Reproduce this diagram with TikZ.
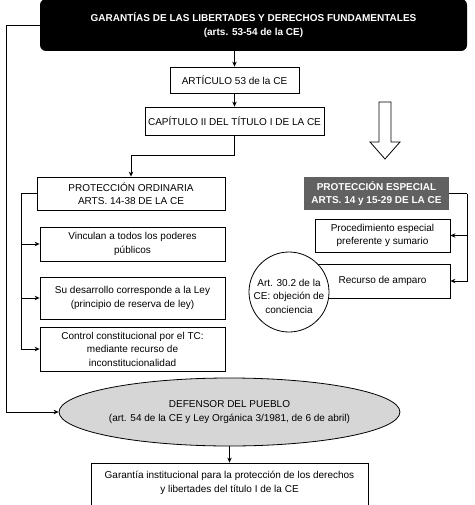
\documentclass[tikz,border=0pt]{standalone}
\usepackage{fontspec}
\setmainfont{Liberation Sans}
\usetikzlibrary{positioning,calc,arrows.meta,shapes.geometric}
\definecolor{espgray}{HTML}{616161}
\definecolor{defgray}{HTML}{D6D6D6}

\begin{document}
\begin{tikzpicture}[
    x=1pt, y=-1pt,
    >={Stealth[length=5pt,width=4.5pt]},
    line width=0.8pt,
    every node/.style={font=\fontsize{10}{13.5}\selectfont, align=center, inner sep=1pt},
    box/.style={draw, rectangle, fill=white},
    darkbox/.style={rectangle, text=white, font=\fontsize{10}{13.5}\selectfont\bfseries}
]

\useasboundingbox (0,0) rectangle (474,505);

%======================
% Coordinates
%======================

\coordinate (Tc)  at (253.5,25);
\coordinate (Ac)  at (234.5,80);
\coordinate (Cc)  at (234.5,121);
\coordinate (Oc)  at (131,193.5);
\coordinate (Ec)  at (376.5,193.5);
\coordinate (Dc)  at (229.5,412);
\coordinate (Gc)  at (229.5,486);

%======================
% Top boxes
%======================

\node[darkbox, fill=black, rounded corners=6pt, minimum width=427pt, minimum height=52pt]
  (title) at (Tc) {GARANTÍAS DE LAS LIBERTADES Y DERECHOS FUNDAMENTALES\\(arts. 53-54 de la CE)};
\node[box, minimum width=129pt, minimum height=26pt] (art53) at (Ac) {ARTÍCULO 53 de la CE};
\node[box, minimum width=179pt, minimum height=28pt] (cap) at (Cc) {CAPÍTULO II DEL TÍTULO I DE LA CE};

%======================
% Ordinary protection
%======================

\node[box, minimum width=188pt, minimum height=33pt] (ord) at (Oc) {PROTECCIÓN ORDINARIA\\ARTS. 14-38 DE LA CE};
\node[box, minimum width=185pt, minimum height=34pt] (vinc) at (132.5,244) {Vinculan a todos los poderes\\públicos};
\node[box, minimum width=185pt, minimum height=42pt] (desa) at (132.5,298) {Su desarrollo corresponde a la Ley\\(principio de reserva de ley)};
\node[box, minimum width=185pt, minimum height=44pt] (ctrl) at (132.5,349) {Control constitucional por el TC:\\mediante recurso de\\inconstitucionalidad};

%======================
% Special protection
%======================

\node[darkbox, fill=espgray, minimum width=145pt, minimum height=33pt] (esp) at (Ec) {PROTECCIÓN ESPECIAL\\ARTS. 14 y 15-29 DE LA CE};
\node[box, minimum width=135pt, minimum height=33pt] (proc) at (382.5,235.5) {Procedimiento especial\\preferente y sumario};
\node[box, minimum width=135pt, minimum height=34pt] (rec) at (382.5,281) {Recurso de amparo};
\node[draw, circle, fill=white, minimum size=80pt, inner sep=0pt,
      label={[yshift=-4pt]center:{Art. 30.2 de la\\CE: objeción de\\conciencia}}] (obj) at (289,292) {};

% Hollow arrow
\draw[fill=white] (379,102) -- (391,102) -- (391,142) -- (400,142) -- (385,159)
  -- (370,142) -- (379,142) -- cycle;

%======================
% Bottom
%======================

\node[draw, ellipse, fill=defgray, minimum width=313pt, minimum height=68pt, inner sep=0pt]
  (def) at (Dc) {DEFENSOR DEL PUEBLO\\(art. 54 de la CE y Ley Orgánica 3/1981, de 6 de abril)};
\node[box, minimum width=277pt, minimum height=46pt, text depth=8pt] (gar) at (Gc)
  {Garantía institucional para la protección de los derechos\\y libertades del título I de la CE};

%======================
% Arrows
%======================

\coordinate (capbend) at (131,155);
\coordinate (leftbus) at (6,25);
\coordinate (ordbus)  at (21,193.5);
\coordinate (espbus)  at (467,193.5);

\draw[->] (title.south -| art53.north) -- (art53.north);
\draw[->] (art53.south) -- (cap.north);
\draw[->] (cap.south) |- (capbend) -- (ord.north);
\draw[->] (title.west) -- (leftbus) |- (def.west);

\draw (ord.west) -- (ordbus);
\draw[->] (ordbus) |- (vinc.west);
\draw[->] (ordbus) |- (desa.west);
\draw[->] (ordbus) |- (ctrl.west);

\draw (esp.east) -- (espbus);
\draw[->] (espbus) |- (proc.east);
\draw[->] (espbus) |- (rec.east);

\draw[->] (def.south) -- (gar.north);

\end{tikzpicture}
\end{document}
